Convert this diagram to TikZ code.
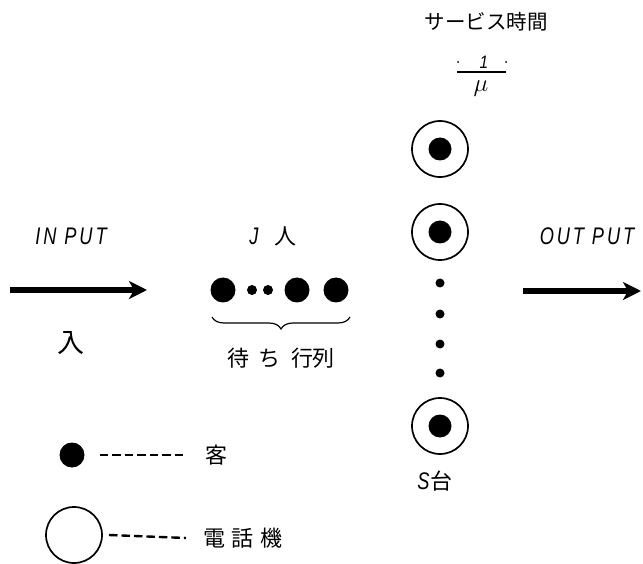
\documentclass[tikz,border=0pt]{standalone}
\usepackage{fontspec}
\usetikzlibrary{arrows.meta,decorations.pathreplacing}
\newfontfamily\jpfont{Noto Sans CJK JP}
\newfontfamily\latfont[FakeStretch=0.76,LetterSpace=12]{Liberation Sans}
\newfontfamily\numfont[FakeStretch=0.85]{Liberation Sans}
\begin{document}
\begin{tikzpicture}[x=1pt,y=-1pt,
  every node/.style={inner sep=0pt, outer sep=0pt},
  latlbl/.style={font=\latfont\itshape\fontsize{24}{24}\selectfont},
  jplbl/.style={font=\jpfont\fontsize{22}{22}\selectfont},
  server/.style={circle, draw, line width=1.7pt, minimum size=56pt},
  busy/.style={circle, fill, minimum size=23pt},
  cust/.style={circle, fill, minimum size=25pt},
  gapdot/.style={circle, fill, minimum size=9pt},
  smalldot/.style={circle, fill, minimum size=10pt},
  flow/.style={line width=5.5pt, -{Stealth[length=18pt,width=18pt,inset=5pt]}},
  legdash/.style={line width=2.4pt, dash pattern=on 8.5pt off 4pt},
]
\useasboundingbox (0,0) rectangle (643,564);

% service time
\node[font=\jpfont\fontsize{20.5}{20.5}\selectfont] (title) at (486,22) {サービス時間};
\node[font=\numfont\itshape\fontsize{18}{18}\selectfont, anchor=base] (one) at (484,68.5) {1};
\coordinate (barL) at (457,72);
\coordinate (barR) at (506,72);
\draw[line width=1.5pt] (barL) -- (barR);
\node[font=\fontsize{25}{25}\selectfont] (mu) at (481,89) {$\mu$};
\fill (458,62) circle (1) (506,62) circle (1);

% servers
\node[server] (s1) at (440,149) {};
\node[busy] (c1) at (s1) {};
\node[server] (s2) at (440,232) {};
\node[busy] (c2) at (s2) {};
\node[gapdot] (g1) at (440,283) {};
\node[gapdot] (g2) at (440,314) {};
\node[gapdot] (g3) at (440,344) {};
\node[gapdot] (g4) at (440,373) {};
\node[server] (s3) at (440,426) {};
\node[busy] (c3) at (s3) {};
\node (stai) at (435,481) {{\latfont\itshape\fontsize{24}{24}\selectfont S}\hspace{1pt}{\jpfont\fontsize{22}{22}\selectfont 台}};

% input side
\node[latlbl] (inlbl) at (71,236) {IN PUT};
\coordinate (inA) at (10,290);
\coordinate (inB) at (147,290);
\draw[flow] (inA) -- (inB);
\node[font=\jpfont\fontsize{27}{27}\selectfont] (lam) at (71,343) {入};

% queue
\node (jlbl) at (273,236) {{\latfont\itshape\fontsize{24}{24}\selectfont J}\hspace{16pt}{\jpfont\fontsize{22}{22}\selectfont 人}};
\node[cust] (q1) at (223,290) {};
\node[smalldot] (qs1) at (252,290) {};
\node[smalldot] (qs2) at (268,290) {};
\node[cust] (q2) at (297,290) {};
\node[cust] (q3) at (336,290) {};
\coordinate (bL) at (212,317);
\coordinate (bR) at (350,317);
\draw[line width=1.2pt, decorate, decoration={brace, amplitude=12pt, mirror}] (bL) -- (bR);
\node[jplbl] (wait) at (281,358) {待\hspace{10pt}ち\hspace{10pt}行列};

% output side
\node[latlbl] (outlbl) at (587,236) {OUT PUT};
\coordinate (outA) at (523,291);
\coordinate (outB) at (641,291);
\draw[flow] (outA) -- (outB);

% legend
\node[cust] (legc) at (72,455) {};
\node[jplbl] (kyaku) at (216,455) {客};
\draw[legdash] ([xshift=15pt]legc.east) -- ([xshift=-19pt]kyaku.west);
\node[server] (legs) at (74,535) {};
\node[jplbl] (phone) at (243,538) {電\hspace{7pt}話\hspace{7pt}機};
\draw[legdash] ([xshift=7pt]legs.east) -- ([xshift=-17pt]phone.west);
\end{tikzpicture}
\end{document}
